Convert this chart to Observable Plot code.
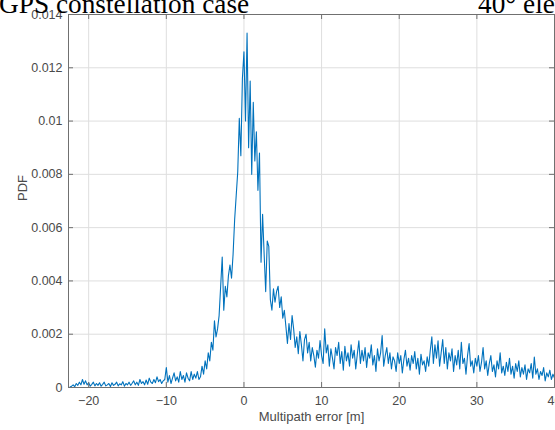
<!DOCTYPE html>
<html><head><meta charset="utf-8">
<script src="https://cdn.jsdelivr.net/npm/d3@7"></script>
<script src="https://cdn.jsdelivr.net/npm/@observablehq/plot@0.6"></script>
<style>
body{margin:0;background:#fff;}
#wrap{position:relative;width:555px;height:430px;overflow:hidden;background:#fff;}
#title{position:absolute;left:0;top:0;}
</style></head><body>
<div id="wrap"><div id="chart"></div>
<svg id="title" width="555" height="30"><text x="-1" y="12.5" font-family="Liberation Serif, 'Times New Roman', serif" font-size="27.3" fill="#000">GPS constellation case</text><text x="478" y="12.5" font-family="Liberation Serif, 'Times New Roman', serif" font-size="27.3" fill="#000">40° elevation</text></svg>
</div>
<script>
// histogram bins: first bin centre and bin width (m)
const binStart = -22.4;
const binWidth = 0.2;
// PDF values in units of 1e-3, one per bin
const pdfMilli = [
  0.02, 0.05, 0.1, 0.03, 0.15, 0.08, 0.2, 0.1, 0.3, 0.12,
  0.25, 0.1, 0.18, 0.05, 0.12, 0.2, 0.06, 0.15, 0.08, 0.18,
  0.05, 0.12, 0.2, 0.06, 0.1, 0.15, 0.04, 0.18, 0.08, 0.12,
  0.2, 0.06, 0.14, 0.1, 0.22, 0.05, 0.15, 0.1, 0.2, 0.08,
  0.16, 0.25, 0.1, 0.2, 0.08, 0.3, 0.15, 0.22, 0.1, 0.28,
  0.12, 0.35, 0.2, 0.15, 0.3, 0.18, 0.4, 0.22, 0.3, 0.15,
  0.25, 0.3, 0.75, 0.2, 0.45, 0.15, 0.35, 0.55, 0.25, 0.4,
  0.2, 0.6, 0.3, 0.45, 0.2, 0.55, 0.35, 0.25, 0.6, 0.3,
  0.5, 0.35, 0.6, 0.3, 0.4, 0.8, 0.5, 1.0, 0.7, 1.3,
  1.0, 1.7, 1.4, 2.5, 1.9, 2.2, 2.7, 3.8, 4.9, 2.9,
  3.8, 3.4, 4.2, 4.6, 4.1, 5.0, 6.3, 7.2, 8.1, 10.1,
  8.7, 11.6, 12.6, 10.0, 13.3, 9.0, 11.5, 8.0, 10.7, 8.5,
  9.6, 7.4, 8.8, 4.7, 6.5, 5.0, 3.6, 5.5, 5.3, 3.3,
  2.9, 3.7, 3.2, 3.6, 3.8, 3.0, 3.4, 2.6, 2.9, 2.3,
  1.65, 2.4, 1.8, 2.7, 2.2, 1.5, 1.9, 1.27, 2.1, 1.6,
  1.0, 1.8, 2.0, 1.3, 1.7, 1.0, 1.5, 1.2, 0.76, 1.4,
  1.1, 1.76, 1.2, 0.9, 2.2, 1.3, 1.6, 0.8, 1.45, 1.1,
  0.7, 1.5, 1.2, 1.7, 0.9, 1.35, 0.65, 1.55, 1.0, 1.3,
  0.8, 1.6, 1.1, 1.4, 0.7, 1.25, 1.75, 0.9, 1.4, 1.0,
  1.5, 0.75, 1.3, 1.1, 1.6, 0.85, 1.2, 0.6, 1.45, 1.0,
  1.3, 1.95, 0.8, 1.2, 1.5, 0.9, 1.3, 0.7, 1.15, 1.0,
  0.6, 1.3, 0.9, 1.2, 0.55, 1.05, 1.4, 0.8, 1.1, 0.65,
  1.2, 0.9, 1.35, 0.7, 1.1, 0.5, 1.25, 0.85, 1.0, 0.6,
  1.15, 0.8, 1.4, 1.9, 0.9, 1.6, 1.1, 1.75, 0.8, 1.3,
  1.8, 0.9, 1.5, 0.7, 1.3, 1.0, 1.45, 0.6, 1.2, 0.85,
  1.4, 0.7, 1.7, 0.9, 1.1, 0.5, 1.2, 1.65, 0.8, 1.0,
  0.55, 1.1, 0.8, 1.2, 0.6, 0.95, 1.5, 0.7, 1.0, 0.45,
  0.9, 1.2, 0.6, 0.85, 0.4, 1.0, 0.7, 1.3, 0.55, 0.8,
  0.45, 0.95, 0.6, 1.1, 0.5, 0.8, 0.35, 0.9, 0.6, 1.0,
  0.4, 0.75, 0.5, 0.85, 0.3, 0.7, 0.55, 0.9, 0.35, 1.14,
  0.5, 0.7, 0.3, 0.6, 0.45, 0.75, 0.25, 0.55, 0.4, 0.65,
  0.3, 0.5, 0.35
];
const xTicks = [-20, -10, 0, 10, 20, 30, 40];
const yTicks = [0, 2, 4, 6, 8, 10, 12, 14];
const xLabel = "Multipath error [m]";
const yLabel = "PDF";

const data = pdfMilli.map((v, i) => ({error: binStart + i * binWidth, pdf: v}));

const W = 555, H = 430, mL = 68, mR = 1, mT = 14, mB = 43;
const plotH = H - mT - mB, plotW = W - mL - mR;
const axisCol = "#707070", textCol = "#4a4a4a", gridCol = "#dedede";

const chart = Plot.plot({
  width: W, height: H,
  marginLeft: mL, marginRight: mR, marginTop: mT, marginBottom: mB,
  style: {fontFamily: "'Liberation Sans', Arial, sans-serif", fontSize: "12.5px", color: textCol, background: "#fff"},
  x: {domain: [-22.6, 40], label: null},
  y: {domain: [0, 14], label: null},
  marks: [
    Plot.gridX(xTicks, {stroke: gridCol, strokeOpacity: 1}),
    Plot.gridY(yTicks, {stroke: gridCol, strokeOpacity: 1}),
    Plot.line(data, {x: "error", y: "pdf", stroke: "#0072BD", strokeWidth: 1.1}),
    Plot.frame({stroke: axisCol}),
    Plot.tickX(xTicks, {x: d => d, insetTop: plotH - 5, stroke: axisCol}),
    Plot.tickX(xTicks, {x: d => d, insetBottom: plotH - 5, stroke: axisCol}),
    Plot.tickY(yTicks, {y: d => d, insetRight: plotW - 5, stroke: axisCol}),
    Plot.tickY(yTicks, {y: d => d, insetLeft: plotW - 5, stroke: axisCol}),
    Plot.axisX(xTicks, {tickSize: 0, tickPadding: 9, label: null}),
    Plot.axisY(yTicks, {tickSize: 0, tickPadding: 6, label: null, tickFormat: d => String(d / 1000)}),
    Plot.text([xLabel], {frameAnchor: "bottom", dy: 33, text: d => d, fill: textCol, fontSize: 13}),
    Plot.text([yLabel], {frameAnchor: "left", dx: -46, rotate: -90, text: d => d, fill: textCol, fontSize: 13})
  ]
});
document.getElementById("chart").appendChild(chart);
</script>
</body></html>
